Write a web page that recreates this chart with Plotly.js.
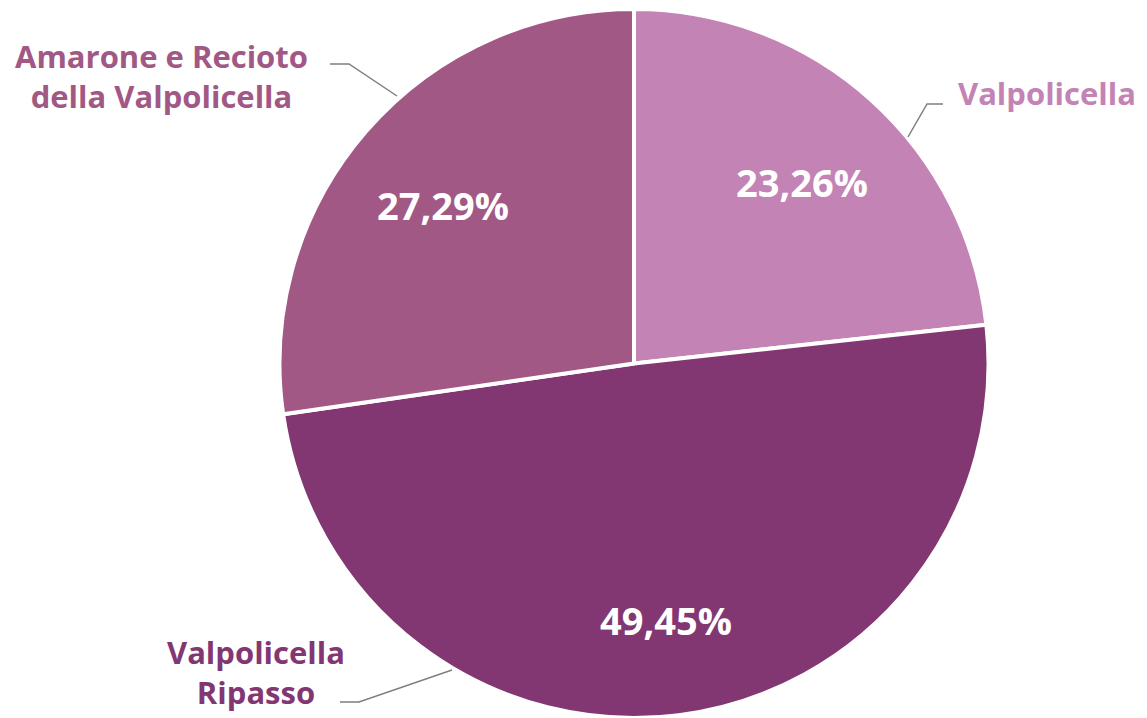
<!DOCTYPE html>
<html>
<head>
<meta charset="utf-8">
<script src="https://cdn.plot.ly/plotly-3.0.1.min.js"></script>
<style>html,body{margin:0;padding:0;background:#fff;}#chart{width:1147px;height:718px;}</style>
</head>
<body>
<div id="chart"></div>
<script>
const categories = ["Valpolicella", "Valpolicella Ripasso", "Amarone e Recioto della Valpolicella"];
const labelTexts = ["Valpolicella", "Valpolicella<br>Ripasso", "Amarone e Recioto<br>della Valpolicella"];
const shares = [23.26, 49.45, 27.29];
const colors = ["#C383B5", "#823773", "#A25885"];

const W = 1147, H = 718;
const cx = 634, cy = 364, R = 355;
const px = x => x / W;
const py = y => 1 - y / H;
const FONT = "'Open Sans', Lato, sans-serif";

const trace = {
  type: "pie",
  labels: categories,
  values: shares,
  sort: false,
  direction: "clockwise",
  rotation: 0,
  marker: { colors: colors, line: { color: "#FFFFFF", width: 4 } },
  textinfo: "none",
  textposition: "none",
  hoverinfo: "label+percent",
  domain: { x: [px(cx - R), px(cx + R)], y: [py(cy + R), py(cy - R)] },
  showlegend: false
};

// percentage labels placed at each slice's mid-angle
const total = shares.reduce((a, b) => a + b, 0);
let cum = 0;
const pctAnn = shares.map((v, i) => {
  const mid = (cum + v / 2) / total * 2 * Math.PI;
  cum += v;
  const r = 0.71 * R;
  return {
    xref: "paper", yref: "paper",
    x: px(cx + r * Math.sin(mid)), y: py(cy + 6 - r * Math.cos(mid)),
    xanchor: "center", yanchor: "middle", showarrow: false,
    text: v.toFixed(2).replace(".", ",") + "%",
    font: { family: FONT, size: 38, color: "#FFFFFF", weight: 700 }
  };
});

const labelPos = [[1047, 93], [256, 672], [161, 76]];
const nameAnn = categories.map((c, i) => ({
  xref: "paper", yref: "paper",
  x: px(labelPos[i][0]), y: py(labelPos[i][1]),
  xanchor: "center", yanchor: "middle", align: "center",
  text: labelTexts[i], showarrow: false,
  font: { family: FONT, size: 31, color: colors[i], weight: 700 }
}));

const leaders = [
  [[943, 104], [927, 104], [908, 137]],
  [[340, 702], [359, 702], [452, 670]],
  [[330, 64], [349, 64], [397, 96]]
];
const shapes = leaders.map(pts => ({
  type: "path", xref: "paper", yref: "paper",
  path: pts.map((p, j) => (j ? "L" : "M") + px(p[0]) + "," + py(p[1])).join(" "),
  line: { color: "#7F7F7F", width: 1.5 }
}));

const layout = {
  width: W, height: H,
  margin: { l: 0, r: 0, t: 0, b: 0 },
  paper_bgcolor: "#FFFFFF",
  separators: ",.",
  annotations: pctAnn.concat(nameAnn),
  shapes: shapes,
  showlegend: false
};

Plotly.newPlot("chart", [trace], layout, { displayModeBar: false, staticPlot: true });
</script>
</body>
</html>
